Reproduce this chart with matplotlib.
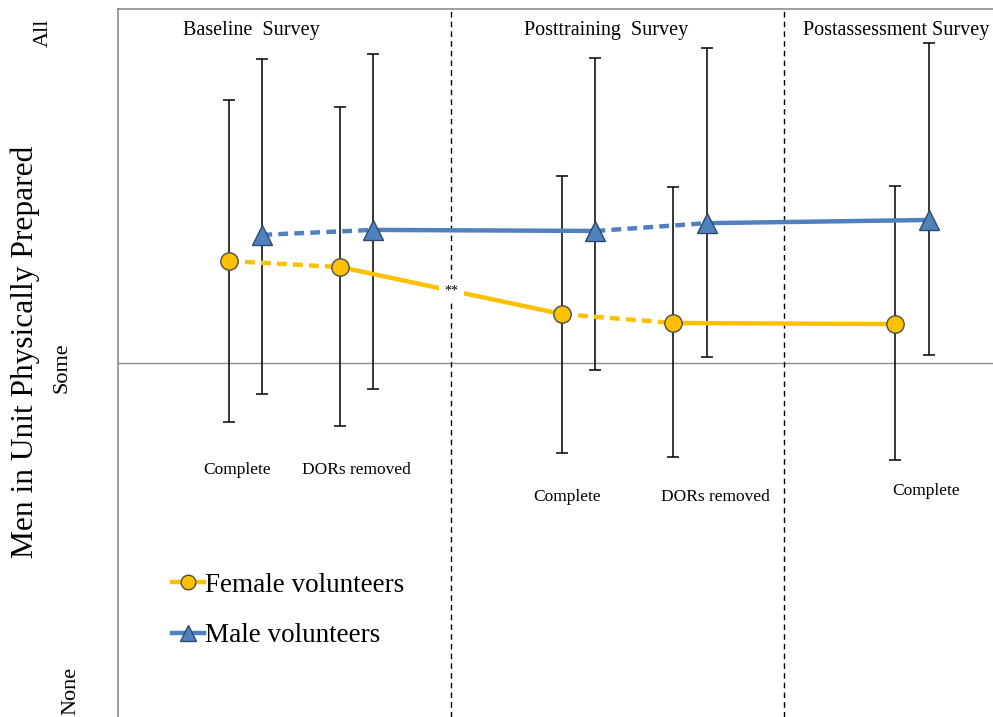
import matplotlib
matplotlib.use("Agg")
import matplotlib.pyplot as plt
from matplotlib.lines import Line2D

plt.rcParams['font.family'] = ['Liberation Serif', 'DejaVu Serif']

# ---- data ----
female_x = [1, 2, 4, 5, 7]
male_x = [1.3, 2.3, 4.3, 5.3, 7.3]
female_mean = [1.288, 1.271, 1.138, 1.113, 1.110]
female_upper = [1.743, 1.723, 1.528, 1.497, 1.500]
female_lower = [0.833, 0.822, 0.746, 0.734, 0.726]
male_mean = [1.362, 1.376, 1.373, 1.395, 1.404]
male_upper = [1.859, 1.873, 1.862, 1.890, 1.904]
male_lower = [0.912, 0.927, 0.980, 1.017, 1.023]
segment_styles = ['dashed', 'solid', 'dashed', 'solid']
y_ticklabels = ['None', 'Some', 'All']
section_titles = ['Baseline  Survey', 'Posttraining  Survey', 'Postassessment Survey']
section_title_x = [1.2, 4.4, 6.17]
section_title_ha = ['center', 'center', 'left']
divider_x = [3, 6]
point_labels = ['Complete', 'DORs removed', 'Complete', 'DORs removed', 'Complete']
point_label_x = [1.07, 2.15, 4.04, 5.38, 7.28]
point_label_y = [-0.301, -0.301, -0.378, -0.378, -0.361]

female_color = '#FFC000'
male_color = '#4F81BD'

W, H = 993, 717
fig = plt.figure(figsize=(W / 100, H / 100), dpi=100)
ax = fig.add_axes([118 / W, 0, 1 - 118 / W, (H - 9) / H])
ax.set_xlim(0, 7.88)
ax.set_ylim(0, 2)

for s in ['right', 'bottom']:
    ax.spines[s].set_visible(False)
for s in ['left', 'top']:
    ax.spines[s].set_color('#8c8c8c')
    ax.spines[s].set_linewidth(1.2)
ax.set_xticks([])
ax.set_yticks([])

# reference line at "Some"
ax.axhline(1, color='#8c8c8c', lw=1.0, zorder=1)
for dx in divider_x:
    ax.axvline(dx, color='black', lw=1.0, linestyle=(0, (4, 3)), zorder=1)

# error bars
for xs, m, up, lo in [(female_x, female_mean, female_upper, female_lower),
                      (male_x, male_mean, male_upper, male_lower)]:
    yerr = [[mm - l for mm, l in zip(m, lo)], [u - mm for mm, u in zip(m, up)]]
    ax.errorbar(xs, m, yerr=yerr, fmt='none', ecolor='black', elinewidth=1.1,
                capsize=4, capthick=1.1, zorder=2)

# lines by segment
for xs, m, col in [(female_x, female_mean, female_color), (male_x, male_mean, male_color)]:
    for i, st in enumerate(segment_styles):
        ls = (0, (2.2, 1.4)) if st == 'dashed' else '-'
        ax.plot(xs[i:i + 2], m[i:i + 2], color=col, lw=3.2, linestyle=ls,
                solid_capstyle='butt', zorder=3)

ax.plot(female_x, female_mean, linestyle='none', marker='o', ms=12.5,
        mfc=female_color, mec='#4d4d4d', mew=1.0, zorder=4)
ax.plot(male_x, male_mean, linestyle='none', marker='^', ms=14,
        mfc=male_color, mec='#2d4a6e', mew=1.0, zorder=4)

# significance marker
ax.text(3.0, 1.203, '**', ha='center', va='center', fontsize=10, zorder=5,
        bbox=dict(facecolor='white', edgecolor='none', pad=4))

# section titles
for t, x, ha in zip(section_titles, section_title_x, section_title_ha):
    ax.text(x, 1.94, t, ha=ha, va='center', fontsize=14.5, clip_on=False)

# point labels
for t, x, y in zip(point_labels, point_label_x, point_label_y):
    ax.text(x, 1 + y, t, ha='center', va='center', fontsize=12.5)

# y tick labels as rotated text
fig.text(43 / W, 1 - 33 / H, y_ticklabels[2], rotation=90, ha='center', va='center', fontsize=16)
fig.text(62 / W, 1 - 368 / H, y_ticklabels[1], rotation=90, ha='center', va='center', fontsize=16)
fig.text(71 / W, 1 - 691 / H, y_ticklabels[0], rotation=90, ha='center', va='center', fontsize=16)
fig.text(25 / W, 1 - 352 / H, 'Men in Unit Physically Prepared', rotation=90,
         ha='center', va='center', fontsize=22.6)

handles = [Line2D([], [], color=female_color, lw=3.2, marker='o', ms=10.5,
                  mfc=female_color, mec='#4d4d4d'),
           Line2D([], [], color=male_color, lw=3.2, marker='^', ms=11.5,
                  mfc=male_color, mec='#2d4a6e')]
ax.legend(handles, ['Female volunteers', 'Male volunteers'], loc='upper left',
          bbox_to_anchor=(158 / W, 1 - 559 / H), bbox_transform=fig.transFigure,
          frameon=False, fontsize=19.5, handlelength=1.2, handletextpad=0.05,
          labelspacing=0.95, borderpad=0)

fig.savefig('out.png', dpi=100)
